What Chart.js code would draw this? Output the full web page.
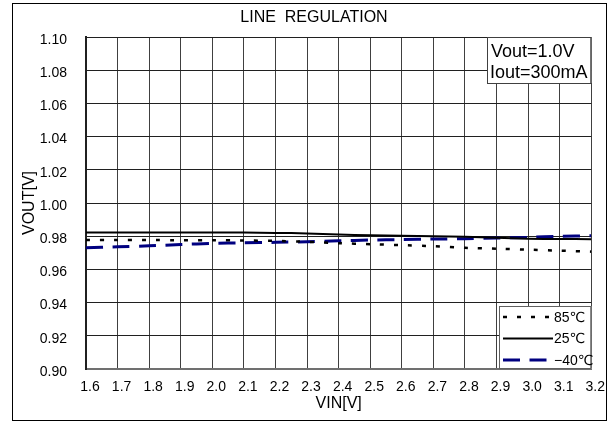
<!DOCTYPE html>
<html>
<head>
<meta charset="utf-8">
<script src="https://cdn.jsdelivr.net/npm/chart.js@4/dist/chart.umd.min.js"></script>
<style>
  html, body { margin: 0; padding: 0; background: #fff; }
  #wrap { width: 611px; height: 423px; position: relative; }
</style>
</head>
<body>
<div id="wrap"><canvas id="c" width="611" height="423"></canvas></div>
<script>
// ---- data ----
const vin = [1.6, 1.7, 1.8, 1.9, 2.0, 2.1, 2.2, 2.3, 2.4, 2.5, 2.6, 2.7, 2.8, 2.9, 3.0, 3.1, 3.2];
const vout85 = [0.9777, 0.9777, 0.9777, 0.9776, 0.9776, 0.9774, 0.9772, 0.9766, 0.9758, 0.9752, 0.9746, 0.9740, 0.9730, 0.9725, 0.9719, 0.9713, 0.9707];
const vout25 = [0.9823, 0.9823, 0.9823, 0.9823, 0.9823, 0.9822, 0.9820, 0.9817, 0.9810, 0.9806, 0.9803, 0.9800, 0.9797, 0.9790, 0.9785, 0.9783, 0.9782];
const voutM40 = [0.9730, 0.9736, 0.9742, 0.9750, 0.9757, 0.9760, 0.9763, 0.9767, 0.9772, 0.9777, 0.9780, 0.9783, 0.9785, 0.9789, 0.9793, 0.9799, 0.9803];
const seriesLabels = ["85℃", "25℃", "−40℃"];
const titleText = "LINE  REGULATION";
const xTitle = "VIN[V]";
const yTitle = "VOUT[V]";
const noteLines = ["Vout=1.0V", "Iout=300mA"];
const xMin = 1.6, xMax = 3.2, xStep = 0.1;
const yMin = 0.90, yMax = 1.10, yStep = 0.02;

const FONT = "'Liberation Sans', Arial, 'DejaVu Sans', 'Noto Sans CJK JP', sans-serif";

function pts(ys) { return vin.map((x, i) => ({ x: x, y: ys[i] })); }

const datasets = [
  { label: seriesLabels[0], data: pts(vout85), borderColor: '#000000', borderWidth: 2.5, borderDash: [4, 10], borderCapStyle: 'butt' },
  { label: seriesLabels[1], data: pts(vout25), borderColor: '#000000', borderWidth: 2, borderDash: [] },
  { label: seriesLabels[2], data: pts(voutM40), borderColor: '#000080', borderWidth: 3, borderDash: [17, 9.5], borderCapStyle: 'butt' }
].map(d => Object.assign({ pointRadius: 0, tension: 0.2, fill: false }, d));

const decor = {
  id: 'decor',
  afterDraw(chart) {
    const ctx = chart.ctx;
    const ca = chart.chartArea;
    ctx.save();
    // outer frame
    ctx.strokeStyle = '#000';
    ctx.lineWidth = 1;
    ctx.strokeRect(12.5, 3.5, 594, 417);
    // title
    ctx.fillStyle = '#000';
    ctx.font = "16px " + FONT;
    ctx.textAlign = 'center';
    ctx.textBaseline = 'middle';
    ctx.fillText(titleText, 314, 18);

    // note box (top right)
    const nx = 487, ny = ca.top, nw = ca.right - 487, nh = 46;
    ctx.fillStyle = '#fff';
    ctx.fillRect(nx, ny, nw, nh);
    ctx.strokeStyle = '#404040';
    ctx.lineWidth = 1;
    ctx.strokeRect(nx + 0.5, ny + 0.5, nw - 1, nh);
    ctx.fillStyle = '#000';
    ctx.font = "18px " + FONT;
    ctx.textAlign = 'left';
    ctx.textBaseline = 'middle';
    ctx.fillText(noteLines[0], nx + 4, ny + 15);
    ctx.fillText(noteLines[1], nx + 3, ny + 36);

    // legend box (bottom right)
    const lx = 499, ly = ca.bottom - 63, lw = ca.right - 499, lh = 63;
    ctx.fillStyle = '#fff';
    ctx.fillRect(lx, ly, lw, lh);
    ctx.strokeStyle = '#606060';
    ctx.strokeRect(lx + 0.5, ly + 0.5, lw - 1, lh - 1);
    chart.data.datasets.forEach((ds, i) => {
      const yy = ly + 11 + i * 21.5;
      ctx.beginPath();
      ctx.strokeStyle = ds.borderColor;
      ctx.lineWidth = ds.borderWidth;
      ctx.lineCap = 'butt';
      ctx.setLineDash(ds.borderDash || []);
      ctx.moveTo(lx + 4, yy);
      ctx.lineTo(lx + 54, yy);
      ctx.stroke();
      ctx.setLineDash([]);
      ctx.fillStyle = '#000';
      ctx.font = "14px " + FONT;
      ctx.textAlign = 'left';
      ctx.textBaseline = 'middle';
      ctx.fillText(ds.label, lx + 55, yy + 1);
    });
    ctx.restore();
  }
};

new Chart(document.getElementById('c'), {
  type: 'line',
  data: { datasets: datasets },
  options: {
    responsive: false,
    animation: false,
    events: [],
    layout: { padding: { top: 37, right: 18, left: 0, bottom: 0 } },
    plugins: { legend: { display: false }, title: { display: false }, tooltip: { enabled: false } },
    scales: {
      x: {
        type: 'linear',
        min: xMin, max: xMax,
        afterFit(s) { s.height = 54; },
        afterBuildTicks(s) {
          const t = [];
          for (let i = 0; i <= Math.round((xMax - xMin) / xStep); i++) t.push({ value: +(xMin + i * xStep).toFixed(1) });
          s.ticks = t;
        },
        ticks: { color: '#000', font: { family: FONT, size: 14 }, padding: 10, labelOffset: 4, maxRotation: 0, autoSkip: false,
                 callback: v => v.toFixed(1) },
        grid: { color: '#404040', lineWidth: 1, drawTicks: false },
        border: { color: '#707070', width: 2 },
        title: { display: true, text: xTitle, color: '#000', font: { family: FONT, size: 16 }, padding: { top: 0, bottom: 10 } }
      },
      y: {
        type: 'linear',
        min: yMin, max: yMax,
        afterFit(s) { s.width = 86; },
        afterBuildTicks(s) {
          const t = [];
          for (let i = 0; i <= Math.round((yMax - yMin) / yStep); i++) t.push({ value: +(yMin + i * yStep).toFixed(2) });
          s.ticks = t;
        },
        ticks: { color: '#000', font: { family: FONT, size: 14 }, padding: 19, labelOffset: 3, autoSkip: false,
                 callback: v => v.toFixed(2) },
        grid: { color: '#202020', lineWidth: 1, drawTicks: false },
        border: { color: '#202020', width: 2 },
        title: { display: true, text: yTitle, color: '#000', font: { family: FONT, size: 16 }, padding: { top: 20, bottom: 0 } }
      }
    }
  },
  plugins: [decor]
});
</script>
</body>
</html>
